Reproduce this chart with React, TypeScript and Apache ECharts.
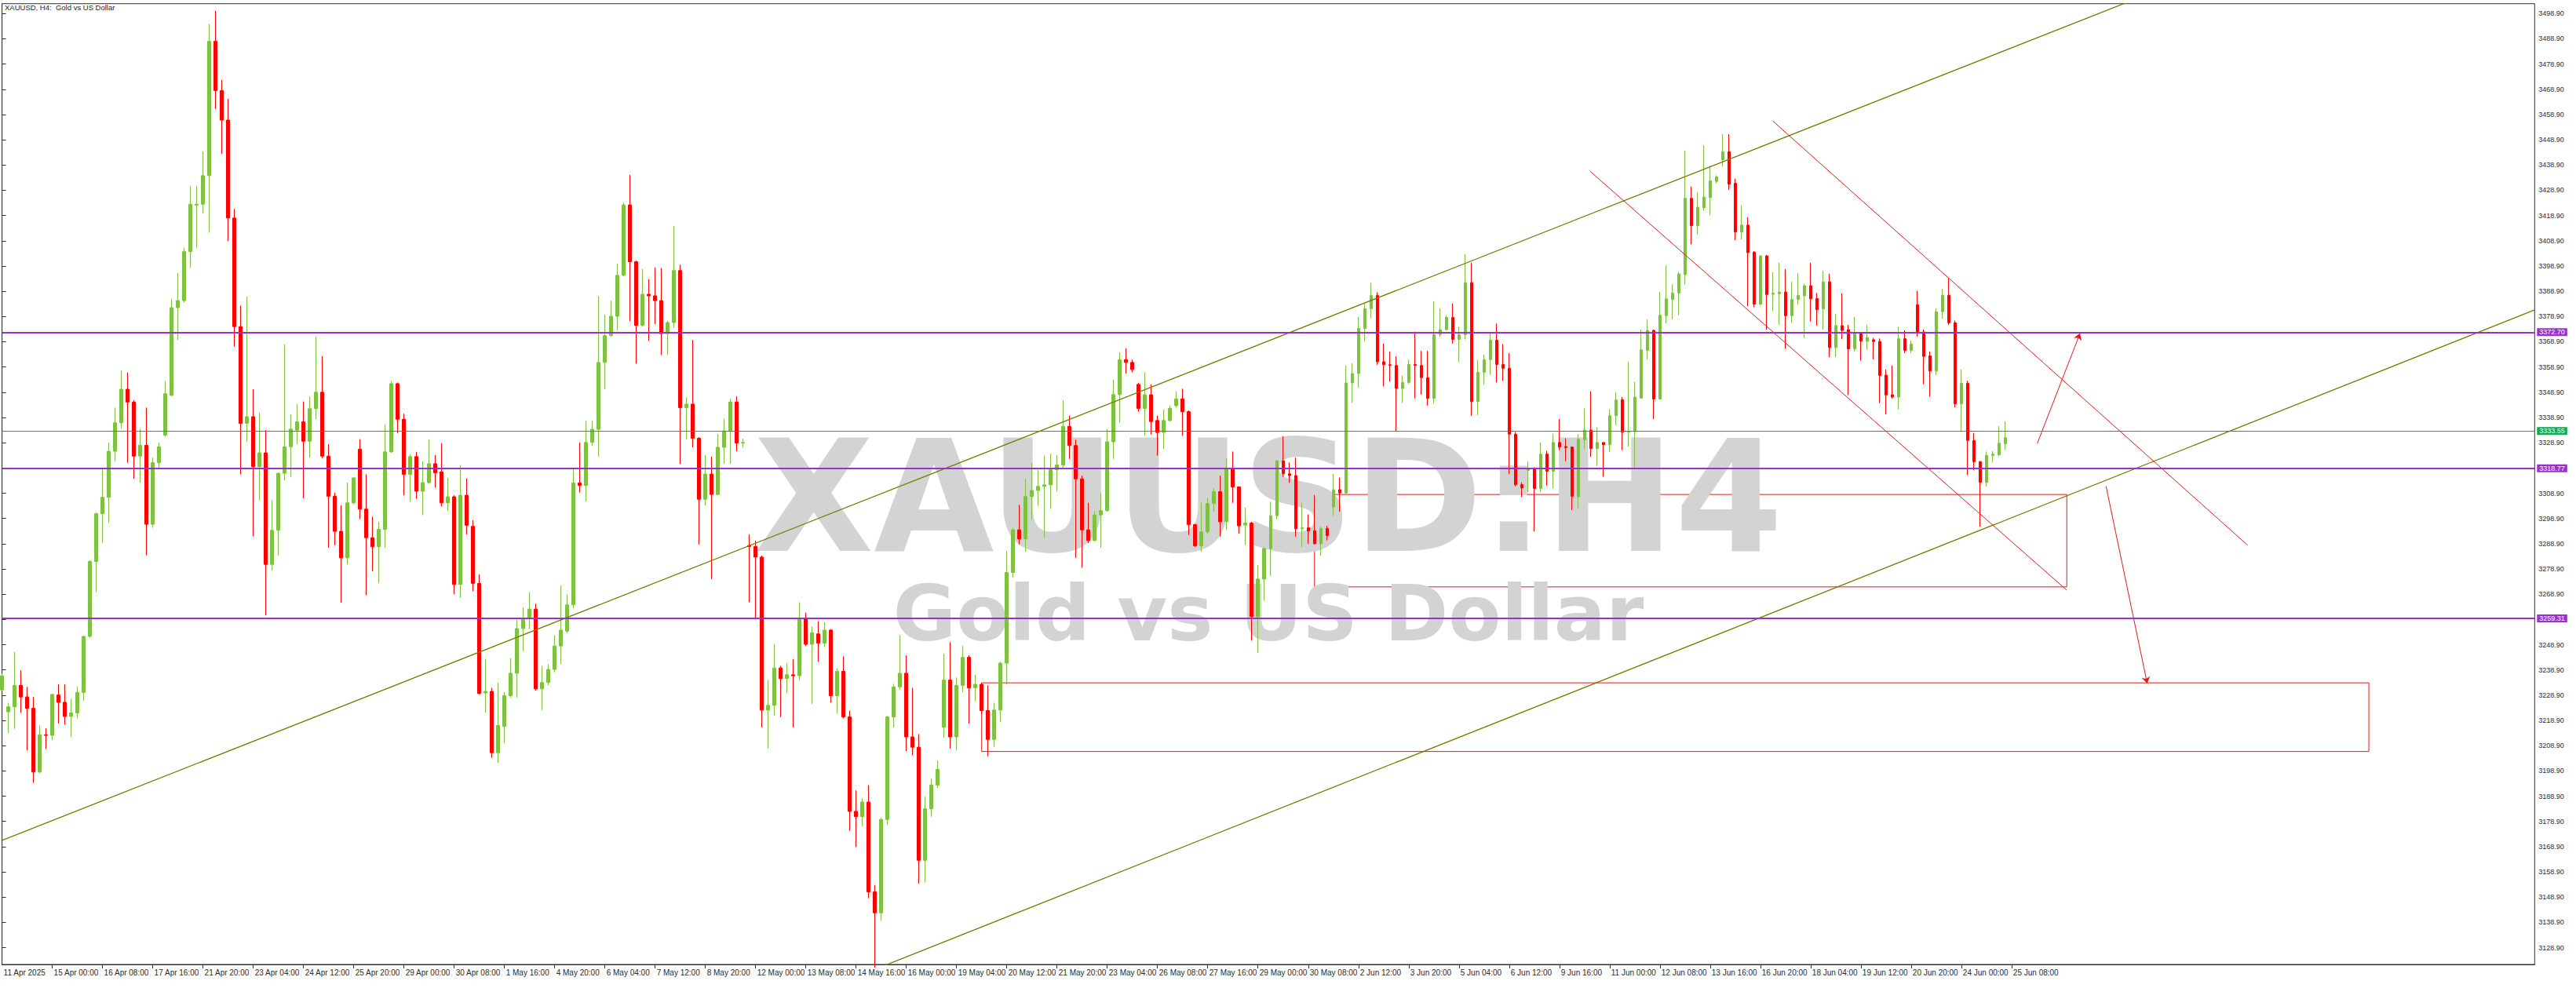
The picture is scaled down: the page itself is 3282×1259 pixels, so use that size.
import React, { useEffect, useRef } from "react";
import * as echarts from "echarts";

// ---------- DATA ----------
// candles: [open, high, low, close], one H4 bar per entry
const candlesApr = [
  [3231.0, 3237.5, 3230.5, 3236.6], [3222.3, 3225.9, 3213.9, 3224.3], [3224.3, 3246.1, 3215.6, 3232.8], [3232.8, 3238.7, 3221.9, 3228.2],
  [3228.2, 3232.2, 3207.0, 3223.7], [3223.7, 3228.2, 3194.2, 3198.5], [3198.5, 3216.9, 3198.0, 3213.2], [3213.2, 3215.8, 3207.6, 3213.0],
  [3213.0, 3229.5, 3211.0, 3229.2], [3229.0, 3233.2, 3217.7, 3226.1], [3226.1, 3233.2, 3217.3, 3220.5], [3220.5, 3227.4, 3212.4, 3221.9],
  [3221.9, 3232.2, 3219.7, 3230.0], [3230.0, 3252.3, 3226.8, 3252.2], [3252.2, 3282.3, 3251.6, 3281.9], [3281.9, 3301.2, 3269.7, 3300.8],
  [3300.8, 3318.4, 3289.3, 3307.3], [3307.3, 3328.9, 3297.2, 3325.5], [3325.5, 3342.8, 3321.6, 3336.8], [3336.8, 3357.6, 3334.5, 3350.1],
  [3350.1, 3356.7, 3321.0, 3345.0], [3345.0, 3345.8, 3314.6, 3323.6], [3323.6, 3334.3, 3313.1, 3327.9], [3327.9, 3342.8, 3284.3, 3296.6],
  [3296.6, 3323.0, 3295.2, 3321.0], [3321.0, 3328.9, 3318.4, 3327.3], [3331.9, 3353.3, 3331.3, 3348.3], [3347.7, 3385.8, 3347.3, 3382.4],
  [3382.4, 3396.1, 3369.5, 3385.2], [3385.2, 3406.2, 3384.4, 3404.6], [3404.6, 3430.4, 3398.3, 3423.4], [3423.0, 3430.6, 3406.2, 3423.4],
  [3423.4, 3444.3, 3419.7, 3434.7], [3434.7, 3494.8, 3412.1, 3487.9], [3487.9, 3500.0, 3461.1, 3468.4], [3468.4, 3472.6, 3443.3, 3456.7],
  [3456.7, 3465.1, 3408.8, 3417.9], [3417.9, 3421.5, 3367.0, 3374.9], [3374.9, 3383.2, 3316.4, 3336.6], [3336.6, 3386.8, 3329.3, 3339.2],
  [3339.2, 3350.1, 3291.9, 3319.4], [3319.4, 3340.8, 3306.1, 3324.9], [3324.9, 3333.9, 3260.5, 3280.7], [3280.7, 3306.1, 3278.4, 3294.2],
  [3294.2, 3317.0, 3284.3, 3316.8], [3316.8, 3367.9, 3314.0, 3327.3], [3327.3, 3340.2, 3315.4, 3334.3], [3333.9, 3344.2, 3328.3, 3337.2],
  [3337.2, 3345.2, 3306.9, 3329.5], [3329.5, 3347.1, 3323.0, 3342.4], [3342.4, 3370.9, 3338.2, 3348.9], [3348.9, 3363.2, 3322.8, 3323.6],
  [3323.6, 3328.3, 3287.3, 3307.7], [3307.7, 3309.1, 3288.3, 3293.8], [3293.8, 3304.1, 3265.5, 3283.3], [3283.3, 3313.1, 3280.7, 3305.1],
  [3305.1, 3315.2, 3304.5, 3315.0], [3326.3, 3330.3, 3298.6, 3302.6], [3302.6, 3316.4, 3268.5, 3291.3], [3291.3, 3299.6, 3278.0, 3287.7],
  [3287.7, 3297.6, 3273.2, 3294.6], [3294.6, 3336.2, 3287.3, 3325.3], [3325.3, 3353.3, 3324.9, 3352.3], [3352.3, 3352.7, 3332.7, 3338.2],
  [3338.2, 3340.4, 3308.1, 3316.4], [3316.4, 3324.4, 3305.5, 3323.4], [3323.4, 3325.3, 3306.7, 3309.7], [3309.7, 3321.6, 3300.2, 3313.1],
  [3313.1, 3330.3, 3312.7, 3320.6], [3320.6, 3324.0, 3311.1, 3317.0], [3317.4, 3328.7, 3303.7, 3305.1], [3305.1, 3315.0, 3301.8, 3307.5],
  [3307.5, 3308.1, 3268.9, 3272.8], [3272.8, 3320.0, 3267.5, 3308.1], [3308.1, 3314.8, 3292.6, 3296.2], [3295.8, 3298.2, 3270.1, 3273.2],
  [3273.2, 3276.8, 3229.2, 3229.6], [3229.8, 3243.3, 3221.9, 3230.4], [3230.4, 3231.8, 3204.1, 3206.1], [3206.1, 3233.8, 3202.1, 3216.9],
];
const candlesMay = [
  [3216.6, 3230.1, 3209.9, 3228.7], [3228.7, 3243.6, 3228.0, 3237.6], [3237.6, 3258.8, 3228.0, 3255.3], [3255.3, 3263.6, 3246.3, 3259.5],
  [3259.5, 3269.7, 3255.1, 3263.0], [3263.0, 3265.1, 3230.7, 3231.4], [3231.4, 3240.5, 3223.0, 3233.9], [3233.9, 3241.2, 3232.8, 3239.1],
  [3239.1, 3252.6, 3238.0, 3248.4], [3248.4, 3272.4, 3241.2, 3254.7], [3254.3, 3268.8, 3253.6, 3264.7], [3264.7, 3318.6, 3263.4, 3313.0],
  [3313.0, 3329.0, 3309.2, 3312.0], [3312.0, 3337.6, 3305.7, 3329.0], [3329.0, 3337.6, 3327.6, 3334.2], [3334.2, 3386.9, 3323.4, 3360.7],
  [3360.7, 3379.6, 3350.0, 3371.3], [3371.3, 3385.2, 3371.0, 3379.0], [3379.0, 3399.8, 3373.4, 3395.2], [3395.2, 3424.0, 3394.8, 3423.1],
  [3423.1, 3435.0, 3377.1, 3400.6], [3400.6, 3401.0, 3360.2, 3375.4], [3375.4, 3397.7, 3374.8, 3387.7], [3387.7, 3393.6, 3369.2, 3387.1],
  [3387.1, 3398.3, 3375.9, 3385.2], [3385.2, 3398.1, 3363.6, 3372.1], [3372.1, 3377.1, 3363.6, 3376.5], [3376.5, 3414.8, 3374.4, 3397.1],
  [3397.1, 3399.4, 3320.5, 3342.8], [3342.8, 3346.9, 3330.3, 3344.2], [3344.2, 3369.6, 3327.0, 3330.7], [3330.7, 3331.1, 3288.6, 3306.5],
  [3306.5, 3324.0, 3304.0, 3316.5], [3316.5, 3323.4, 3274.9, 3308.4], [3308.4, 3332.3, 3308.2, 3327.1], [3327.1, 3338.4, 3320.7, 3333.6],
  [3333.6, 3346.3, 3320.7, 3345.0], [3345.0, 3347.3, 3325.5, 3328.8], [3328.8, 3330.5, 3327.0, 3329.0], [3288.2, 3292.6, 3265.7, 3287.8],
  [3287.8, 3290.1, 3258.9, 3283.6], [3283.6, 3284.2, 3216.2, 3223.0], [3223.0, 3234.9, 3207.8, 3224.9], [3224.9, 3249.1, 3220.7, 3239.7],
  [3239.7, 3240.5, 3220.3, 3235.5], [3235.5, 3241.6, 3229.7, 3237.0], [3237.0, 3243.2, 3216.2, 3236.6], [3236.6, 3265.7, 3234.9, 3259.5],
  [3259.5, 3261.6, 3248.4, 3249.1], [3249.1, 3256.1, 3225.5, 3253.6], [3253.2, 3258.2, 3242.2, 3249.5], [3249.5, 3257.8, 3248.0, 3254.7],
  [3254.7, 3255.1, 3226.0, 3228.7], [3228.7, 3239.5, 3221.8, 3238.4], [3238.4, 3244.3, 3219.7, 3220.3], [3220.3, 3222.8, 3175.2, 3182.9],
  [3182.9, 3191.2, 3168.7, 3180.8], [3180.8, 3188.1, 3177.0, 3186.6], [3186.6, 3193.3, 3148.5, 3151.0], [3151.0, 3153.7, 3121.0, 3142.7],
  [3142.7, 3180.3, 3139.7, 3179.7], [3179.7, 3220.7, 3177.6, 3220.3], [3220.3, 3233.4, 3216.2, 3232.2], [3232.2, 3252.6, 3231.2, 3237.6],
  [3237.6, 3244.7, 3206.8, 3212.4], [3212.4, 3231.8, 3205.1, 3208.3], [3208.3, 3213.5, 3154.3, 3163.5], [3163.5, 3188.7, 3154.7, 3183.9],
  [3183.9, 3195.8, 3180.8, 3193.3], [3193.3, 3203.0, 3192.2, 3199.5], [3216.2, 3245.3, 3212.0, 3234.9], [3234.9, 3249.9, 3207.8, 3212.4],
  [3212.4, 3235.9, 3207.2, 3232.8], [3232.8, 3248.4, 3230.1, 3243.9], [3243.9, 3244.7, 3217.6, 3231.8], [3231.8, 3237.0, 3226.6, 3233.2],
  [3233.2, 3233.9, 3221.4, 3222.8], [3222.8, 3232.8, 3204.7, 3211.4], [3211.4, 3225.9, 3208.5, 3223.0], [3223.0, 3242.2, 3218.2, 3241.6],
];
const candlesLateMay = [
  [3241.6, 3286.0, 3233.1, 3277.5], [3277.5, 3295.2, 3275.4, 3294.4], [3294.4, 3304.3, 3288.6, 3290.8], [3290.8, 3314.7, 3285.7, 3307.6],
  [3307.6, 3320.9, 3298.4, 3310.0], [3310.0, 3318.2, 3303.9, 3311.6], [3311.6, 3323.8, 3291.3, 3312.2], [3312.2, 3324.6, 3302.7, 3318.2],
  [3318.2, 3324.1, 3309.5, 3320.1], [3320.1, 3345.7, 3319.0, 3335.4], [3335.4, 3339.6, 3322.5, 3327.8], [3327.8, 3330.1, 3283.3, 3314.6],
  [3314.6, 3315.9, 3279.4, 3294.4], [3294.4, 3305.1, 3289.2, 3290.2], [3290.2, 3301.9, 3289.7, 3300.3], [3300.3, 3309.0, 3287.3, 3302.0],
  [3302.0, 3334.4, 3301.6, 3329.3], [3329.3, 3353.9, 3322.5, 3348.0], [3348.0, 3364.7, 3336.8, 3361.8], [3361.8, 3366.3, 3356.3, 3360.7],
  [3360.7, 3361.8, 3356.8, 3357.9], [3352.0, 3352.6, 3341.2, 3342.5], [3342.5, 3356.8, 3331.7, 3347.9], [3347.9, 3352.0, 3332.2, 3337.3],
  [3337.7, 3339.6, 3323.8, 3333.0], [3333.0, 3342.0, 3326.5, 3337.7], [3337.7, 3343.6, 3337.3, 3342.5], [3343.6, 3349.2, 3342.8, 3346.3],
  [3346.3, 3350.3, 3331.7, 3341.2], [3341.2, 3341.7, 3292.4, 3296.5], [3296.5, 3296.8, 3287.6, 3288.1], [3288.1, 3305.1, 3285.7, 3293.6],
  [3293.6, 3307.1, 3292.8, 3304.8], [3304.8, 3310.8, 3301.6, 3309.5], [3309.5, 3315.9, 3291.7, 3297.6], [3297.6, 3322.7, 3294.4, 3318.5],
  [3318.5, 3325.4, 3305.1, 3311.4], [3311.4, 3311.6, 3292.9, 3296.0], [3296.3, 3303.2, 3288.4, 3297.1], [3297.1, 3297.6, 3250.5, 3260.0],
  [3260.0, 3280.5, 3245.7, 3274.9], [3274.9, 3287.6, 3266.4, 3287.0], [3287.0, 3305.5, 3276.2, 3300.0], [3300.0, 3322.2, 3298.7, 3321.7],
  [3321.7, 3331.4, 3315.4, 3316.6], [3316.6, 3321.1, 3313.0, 3315.9], [3315.9, 3323.0, 3291.7, 3294.8], [3294.8, 3305.1, 3287.6, 3295.2],
  [3295.2, 3300.5, 3288.9, 3294.0], [3294.0, 3308.2, 3288.6, 3288.9], [3288.9, 3295.7, 3284.1, 3294.9], [3294.9, 3296.0, 3290.2, 3292.1],
  [3303.5, 3316.6, 3300.0, 3310.3], [3310.3, 3315.1, 3301.6, 3309.0], [3309.0, 3359.5, 3308.7, 3352.6], [3352.6, 3360.3, 3344.7, 3356.3],
  [3356.3, 3378.8, 3350.7, 3374.2], [3374.2, 3384.0, 3369.0, 3382.0], [3382.0, 3392.3, 3378.2, 3387.2], [3387.2, 3388.5, 3359.8, 3361.0],
  [3361.0, 3368.2, 3351.2, 3359.8], [3359.8, 3365.0, 3353.1, 3359.5], [3359.5, 3363.1, 3333.3, 3350.4], [3350.4, 3355.5, 3344.7, 3352.8],
  [3352.8, 3361.8, 3352.3, 3359.9], [3359.9, 3372.9, 3346.5, 3359.5], [3359.5, 3365.3, 3348.0, 3354.7], [3354.7, 3365.3, 3343.6, 3346.5],
  [3346.5, 3384.9, 3344.4, 3371.8], [3371.8, 3382.0, 3370.9, 3373.7], [3373.7, 3379.3, 3373.3, 3378.5], [3378.5, 3384.0, 3368.2, 3369.8],
  [3369.8, 3374.8, 3361.0, 3371.7], [3371.7, 3403.6, 3369.8, 3392.3], [3392.3, 3400.2, 3339.6, 3345.2], [3345.2, 3361.5, 3339.9, 3356.8],
  [3356.8, 3363.9, 3351.9, 3361.8], [3361.8, 3372.2, 3355.8, 3369.5], [3369.5, 3376.1, 3352.8, 3359.9], [3359.9, 3367.9, 3353.4, 3358.4],
];
const candlesJun = [
  [3358.4, 3364.4, 3316.5, 3332.3], [3332.3, 3333.1, 3311.6, 3312.3], [3312.3, 3313.2, 3307.4, 3311.0], [3317.9, 3321.4, 3309.4, 3318.4],
  [3318.4, 3319.2, 3293.8, 3310.8], [3310.8, 3329.0, 3309.4, 3324.4], [3324.4, 3325.7, 3311.9, 3317.6], [3317.6, 3332.5, 3310.8, 3329.0],
  [3329.0, 3338.3, 3326.0, 3327.2], [3327.4, 3330.6, 3321.6, 3327.0], [3327.2, 3327.4, 3302.3, 3307.7], [3307.5, 3332.3, 3303.0, 3330.3],
  [3330.1, 3342.6, 3326.3, 3333.9], [3333.9, 3349.2, 3323.3, 3326.6], [3326.6, 3335.0, 3319.7, 3329.0], [3329.0, 3329.0, 3315.4, 3328.1],
  [3328.1, 3342.1, 3325.2, 3339.6], [3339.6, 3349.0, 3335.8, 3345.9], [3345.9, 3347.0, 3326.0, 3333.1], [3333.1, 3360.9, 3327.4, 3333.3],
  [3333.3, 3353.0, 3319.2, 3347.0], [3346.6, 3373.7, 3346.4, 3365.7], [3365.5, 3377.7, 3361.9, 3373.4], [3373.4, 3373.7, 3338.3, 3346.2],
  [3346.2, 3388.6, 3346.0, 3379.4], [3379.2, 3399.1, 3376.2, 3385.9], [3385.7, 3391.7, 3377.8, 3388.2], [3388.2, 3396.6, 3379.4, 3395.8],
  [3395.5, 3444.6, 3391.5, 3425.7], [3425.7, 3430.4, 3407.5, 3414.9], [3414.9, 3428.0, 3411.3, 3422.2], [3422.0, 3446.7, 3420.8, 3426.2],
  [3426.0, 3438.6, 3418.9, 3432.6], [3432.4, 3434.8, 3431.7, 3434.2], [3441.0, 3451.1, 3438.2, 3444.2], [3444.2, 3451.1, 3429.1, 3431.3],
  [3431.7, 3433.5, 3409.1, 3412.4], [3412.4, 3423.0, 3409.4, 3415.1], [3415.1, 3418.2, 3383.0, 3404.2], [3404.4, 3404.8, 3382.6, 3383.8],
  [3383.8, 3403.1, 3383.3, 3402.9], [3402.9, 3403.3, 3373.7, 3387.6], [3387.7, 3396.4, 3381.0, 3388.1], [3387.9, 3400.2, 3375.6, 3388.6],
  [3388.6, 3397.7, 3366.1, 3379.2], [3379.2, 3392.6, 3376.4, 3385.7], [3385.7, 3396.0, 3383.5, 3387.3], [3387.1, 3391.9, 3370.4, 3391.1],
  [3391.1, 3400.2, 3377.0, 3385.9], [3386.0, 3388.2, 3375.3, 3381.6], [3381.9, 3396.9, 3373.7, 3392.6], [3392.6, 3395.8, 3362.8, 3366.6],
  [3366.6, 3379.9, 3362.8, 3375.3], [3375.3, 3388.1, 3369.9, 3373.4], [3373.7, 3375.6, 3347.8, 3366.1], [3366.1, 3378.8, 3365.0, 3372.3],
  [3372.3, 3372.8, 3361.4, 3369.1], [3369.1, 3375.6, 3365.7, 3370.6], [3369.7, 3370.4, 3361.9, 3369.0], [3369.0, 3370.2, 3344.6, 3355.5],
  [3355.7, 3357.9, 3340.2, 3347.8], [3347.9, 3359.5, 3346.4, 3347.0], [3347.0, 3374.8, 3342.1, 3370.1], [3370.1, 3373.4, 3364.4, 3365.5],
  [3365.5, 3369.3, 3364.4, 3368.0], [3383.5, 3389.0, 3371.0, 3372.8], [3372.8, 3373.7, 3352.1, 3363.1], [3363.3, 3365.0, 3347.2, 3357.3],
  [3357.3, 3382.2, 3355.7, 3380.8], [3380.8, 3389.8, 3378.0, 3387.3], [3387.3, 3393.9, 3375.6, 3376.4], [3376.4, 3377.3, 3342.9, 3344.3],
  [3344.3, 3357.9, 3333.4, 3352.4], [3352.4, 3353.5, 3316.1, 3329.8], [3329.8, 3332.8, 3318.1, 3321.4], [3321.4, 3321.7, 3295.7, 3313.2],
  [3313.2, 3325.4, 3311.6, 3323.9], [3323.9, 3325.5, 3321.2, 3324.4], [3324.1, 3335.5, 3323.6, 3328.7], [3328.5, 3337.4, 3326.1, 3330.9],
];

// time-axis labels, one every 8 bars
const timeLabels = [
  "11 Apr 2025", "15 Apr 00:00", "16 Apr 08:00", "17 Apr 16:00", "21 Apr 20:00", "23 Apr 04:00", "24 Apr 12:00",
  "25 Apr 20:00", "29 Apr 00:00", "30 Apr 08:00", "1 May 16:00", "4 May 20:00", "6 May 04:00", "7 May 12:00",
  "8 May 20:00", "12 May 00:00", "13 May 08:00", "14 May 16:00", "16 May 00:00", "19 May 04:00", "20 May 12:00",
  "21 May 20:00", "23 May 04:00", "26 May 08:00", "27 May 16:00", "29 May 00:00", "30 May 08:00", "2 Jun 12:00",
  "3 Jun 20:00", "5 Jun 04:00", "6 Jun 12:00", "9 Jun 16:00", "11 Jun 00:00", "12 Jun 08:00", "13 Jun 16:00",
  "16 Jun 20:00", "18 Jun 04:00", "19 Jun 12:00", "20 Jun 20:00", "24 Jun 00:00", "25 Jun 08:00",
];
const priceTicks = [
  3128.9, 3138.9, 3148.9, 3158.9, 3168.9, 3178.9, 3188.9, 3198.9, 3208.9, 3218.9, 3228.9, 3238.9, 3248.9,
  3258.9, 3268.9, 3278.9, 3288.9, 3298.9, 3308.9, 3318.9, 3328.9, 3338.9, 3348.9, 3358.9, 3368.9, 3378.9,
  3388.9, 3398.9, 3408.9, 3418.9, 3428.9, 3438.9, 3448.9, 3458.9, 3468.9, 3478.9, 3488.9, 3498.9,
];
const levelPrices = [3372.7, 3318.77, 3259.31];
const currentPrice = 3333.55;

// drawn objects, in [bar index, price]
const channelUpper = [[0, 3171.4], [403.3, 3567.0]];
const channelLower = [[139, 3120.3], [403.3, 3381.5]];
const redLineA = [[252.9, 3436.4], [328.8, 3270.5]];
const redLineB = [[282.0, 3456.3], [357.6, 3288.3]];
const zones = [
  [[209.0, 3308.4], [328.8, 3271.8]],
  [[156.0, 3233.8], [376.9, 3206.6]],
];
const arrows = [
  [[324.1, 3328.6], [330.9, 3372.2]],
  [[335.05, 3311.7], [341.6, 3233.6]],
];

const BULL = "#7FC241";
const BEAR = "#FF0000";
const PURPLE = "#9932CC";
const GREEN = "#00B050";
const OLIVE = "#7A7A00";
const RED = "#E01818";

export default function App() {
  const ref = useRef<HTMLDivElement>(null);
  useEffect(() => {
    const chart = echarts.init(ref.current!, null, { renderer: "svg" });
    const all = [...candlesApr, ...candlesMay, ...candlesLateMay, ...candlesJun];
    const candleData = all.map((c, i) => [i, c[0], c[3], c[2], c[1]]);
    const labelValues = timeLabels.map((_, k) => k * 8);
    const font = "Liberation Sans";

    const option: any = {
      animation: false,
      backgroundColor: "#fff",
      grid: {
        left: 2.6, right: 52.7, top: 4.7, bottom: 30,
        show: true, borderColor: "#2F2F2F", borderWidth: 1,
      },
      xAxis: {
        type: "value", min: 0, max: 403.3,
        axisLine: { show: true, onZero: false, lineStyle: { color: "#2F2F2F", width: 1 } },
        splitLine: { show: false },
        axisTick: { show: true, length: 5, lineStyle: { color: "#2F2F2F" }, customValues: labelValues.slice(1) },
        axisLabel: {
          customValues: labelValues,
          formatter: (v: number) => timeLabels[Math.round(v / 8)] ?? "",
          align: "left", margin: 5, padding: [0, 0, 0, 2],
          fontFamily: "'Liberation Sans Narrow', 'Liberation Sans'", fontSize: 10, color: "#2A2A2A",
        },
      },
      yAxis: {
        type: "value", position: "right", min: 3122.25, max: 3502.8, scale: true,
        axisLine: { show: true, lineStyle: { color: "#2F2F2F", width: 1 } },
        splitLine: { show: false },
        axisTick: { show: true, inside: false, length: 5, lineStyle: { color: "#2F2F2F" }, customValues: priceTicks },
        axisLabel: {
          customValues: priceTicks,
          formatter: (v: number) => v.toFixed(2),
          margin: 5, fontFamily: font, fontSize: 9, color: "#2A2A2A",
        },
      },
      graphic: [
        {
          type: "text", z: 1, silent: true, x: 1616, y: 533,
          style: {
            text: "{a|XAUUSD:H4}\n{b|Gold vs US Dollar}",
            align: "center", verticalAlign: "top",
            rich: {
              a: { fill: "#D3D3D3", font: "bold 198px 'DejaVu Sans'", lineHeight: 200 },
              b: { fill: "#D3D3D3", font: "bold 98px 'DejaVu Sans'", lineHeight: 98 },
            },
          },
        },
        {
          type: "text", z: 10, silent: true, x: 6, y: 9.5,
          style: { text: "XAUUSD, H4:  Gold vs US Dollar", fill: "#1E1E1E", font: "9.5px 'Liberation Sans'", align: "left", verticalAlign: "middle" },
        },
      ],
      series: [
        {
          type: "line", data: [], z: 0, silent: true,
          markArea: {
            silent: true, z: 0,
            itemStyle: { color: "rgba(0,0,0,0)", borderColor: RED, borderWidth: 1 },
            label: { show: false },
            data: zones.map((z) => [{ coord: z[0] }, { coord: z[1] }]),
          },
        },
        {
          type: "candlestick", z: 2, silent: true, barWidth: 4,
          encode: { x: 0, y: [1, 2, 3, 4] },
          data: candleData,
          itemStyle: { color: BULL, color0: BEAR, borderColor: BULL, borderColor0: BEAR, borderWidth: 1 },
        },
        { type: "line", z: 3, silent: true, data: channelUpper, symbol: "none", lineStyle: { color: OLIVE, width: 1.3 }, clip: true },
        { type: "line", z: 3, silent: true, data: channelLower, symbol: "none", lineStyle: { color: OLIVE, width: 1.3 }, clip: true },
        { type: "line", z: 3, silent: true, data: redLineA, symbol: "none", lineStyle: { color: RED, width: 1 }, clip: true },
        { type: "line", z: 3, silent: true, data: redLineB, symbol: "none", lineStyle: { color: RED, width: 1 }, clip: true },
        {
          type: "line", data: [], z: 4, silent: true,
          markLine: {
            silent: true, symbol: ["none", "arrow"], symbolSize: 8,
            label: { show: false },
            lineStyle: { color: RED, width: 1, type: "solid" },
            data: arrows.map((a) => [{ coord: a[0] }, { coord: a[1] }]),
          },
        },
        {
          type: "line", data: [], z: 4, silent: true,
          markLine: {
            silent: true, symbol: "none",
            data: [
              ...levelPrices.map((v) => ({
                yAxis: v,
                lineStyle: { color: PURPLE, width: 2, type: "solid" },
                label: {
                  show: true, position: "end", distance: 3, formatter: () => v.toFixed(2),
                  backgroundColor: PURPLE, color: "#fff", fontFamily: font, fontSize: 9,
                  padding: [1, 3, 0, 3], lineHeight: 9,
                },
              })),
              {
                yAxis: currentPrice,
                lineStyle: { color: GREEN, width: 1, type: "solid" },
                label: {
                  show: true, position: "end", distance: 3, formatter: () => currentPrice.toFixed(2),
                  backgroundColor: GREEN, color: "#fff", fontFamily: font, fontSize: 9,
                  padding: [1, 3, 0, 3], lineHeight: 9,
                },
              },
            ],
          },
        },
      ],
    };
    chart.setOption(option);
    return () => chart.dispose();
  }, []);
  return (
    <div
      ref={ref}
      style={{ position: "fixed", left: 0, top: 0, width: 3282, height: 1259, background: "#fff" }}
    />
  );
}
